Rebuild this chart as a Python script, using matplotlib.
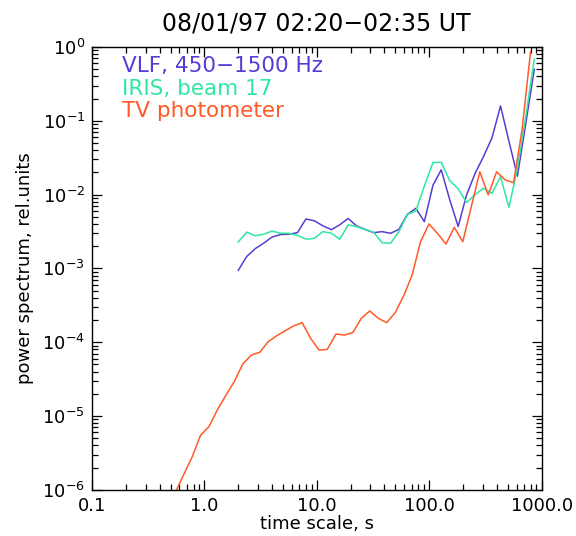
import matplotlib
matplotlib.use("Agg")
import matplotlib.pyplot as plt
from matplotlib.ticker import LogLocator, FixedLocator, FixedFormatter, NullFormatter

# time scales (s) of the VLF / IRIS spectra
vlf_t = [2.00, 2.38, 2.83, 3.36, 4.00, 4.76, 5.66, 6.73, 8.00, 9.51,
         11.3, 13.5, 16.0, 19.0, 22.6, 26.9, 32.0, 38.1, 45.3, 53.8,
         64.0, 76.1, 90.5, 108., 128., 152., 181., 215., 256., 304.,
         362., 431., 512., 609., 724., 861.]

vlf_p = [9.4e-4, 1.45e-3, 1.85e-3, 2.19e-3, 2.66e-3, 2.88e-3, 2.91e-3, 3.05e-3, 4.67e-3, 4.42e-3,
         3.78e-3, 3.35e-3, 3.9e-3, 4.75e-3, 3.76e-3, 3.38e-3, 3.05e-3, 3.15e-3, 2.99e-3, 3.38e-3,
         5.4e-3, 6.52e-3, 4.3e-3, 1.34e-2, 2.17e-2, 8.6e-3, 3.7e-3, 9.9e-3, 1.94e-2, 3.27e-2,
         5.9e-2, 0.159, 5.3e-2, 1.78e-2, 9.3e-2, 0.50]

iris_p = [2.28e-3, 3.1e-3, 2.77e-3, 2.9e-3, 3.21e-3, 2.99e-3, 2.99e-3, 2.8e-3, 2.49e-3, 2.55e-3,
          3.15e-3, 3.0e-3, 2.48e-3, 3.9e-3, 3.68e-3, 3.38e-3, 3.08e-3, 2.23e-3, 2.19e-3, 3.15e-3,
          5.4e-3, 6.0e-3, 1.3e-2, 2.72e-2, 2.74e-2, 1.55e-2, 1.2e-2, 7.8e-3, 1.0e-2, 1.22e-2,
          1.04e-2, 1.75e-2, 6.7e-3, 2.27e-2, 0.117, 0.687]

# TV photometer sampled on its own set of scales
tv_t = [0.55, 0.654, 0.778, 0.925, 1.10, 1.31, 1.56, 1.85, 2.20, 2.62,
        3.11, 3.70, 4.40, 5.23, 6.22, 7.40, 8.80, 10.5, 12.4, 14.8,
        17.6, 20.9, 24.9, 29.6, 35.2, 41.9, 49.8, 59.2, 70.4, 83.7,
        99.6, 118., 141., 167., 199., 237., 282., 335., 398., 474.,
        563., 670., 797.]

tv_p = [9.2e-7, 1.6e-6, 2.78e-6, 5.5e-6, 7.2e-6, 1.23e-5, 1.93e-5, 2.95e-5, 5.1e-5, 6.7e-5,
        7.3e-5, 1.02e-4, 1.22e-4, 1.43e-4, 1.66e-4, 1.84e-4, 1.13e-4, 7.8e-5, 8.0e-5, 1.29e-4,
        1.25e-4, 1.35e-4, 2.11e-4, 2.65e-4, 2.11e-4, 1.84e-4, 2.51e-4, 4.23e-4, 8.1e-4, 2.3e-3,
        4.0e-3, 3.0e-3, 2.14e-3, 3.6e-3, 2.3e-3, 6.9e-3, 2.04e-2, 9.9e-3, 2.04e-2, 1.58e-2,
        1.45e-2, 7.6e-2, 0.86]

x_ticks = [0.1, 1.0, 10.0, 100.0, 1000.0]
x_labels = ['0.1', '1.0', '10.0', '100.0', '1000.0']
y_ticks = [1e-6, 1e-5, 1e-4, 1e-3, 1e-2, 1e-1, 1.0]

series_lab = ['VLF, 450\u22121500 Hz', 'IRIS, beam 17', 'TV photometer']
series_col = ['#5a3cd2', '#2ee8a2', '#ff5a28']

fig = plt.figure(figsize=(5.76, 5.36), dpi=100)
ax = fig.add_axes([0.1597, 0.0862, 0.7806, 0.8261])

ax.plot(vlf_t, vlf_p, color=series_col[0], lw=1.1)
ax.plot(vlf_t, iris_p, color=series_col[1], lw=1.1)
ax.plot(tv_t, tv_p, color=series_col[2], lw=1.1)

ax.set_xscale('log')
ax.set_yscale('log')
ax.set_xlim(0.1, 1000.)
ax.set_ylim(1e-6, 1.)

ax.xaxis.set_major_locator(FixedLocator(x_ticks))
ax.xaxis.set_major_formatter(FixedFormatter(x_labels))
ax.xaxis.set_minor_locator(LogLocator(base=10, subs=range(2, 10), numticks=20))
ax.xaxis.set_minor_formatter(NullFormatter())
ax.yaxis.set_major_locator(FixedLocator(y_ticks))
ax.yaxis.set_minor_locator(LogLocator(base=10, subs=range(2, 10), numticks=20))
ax.yaxis.set_minor_formatter(NullFormatter())

ax.tick_params(which='both', direction='in', top=True, right=True, width=0.9, colors='black')
ax.tick_params(which='major', length=7, labelsize=13)
ax.tick_params(which='minor', length=4)
ax.tick_params(axis='x', which='major', pad=5)
ax.tick_params(axis='y', which='major', pad=5)
for sp in ax.spines.values():
    sp.set_linewidth(1.0)

ax.set_xlabel('time scale, s', fontsize=13, labelpad=0)
ax.set_ylabel('power spectrum, rel.units', fontsize=13, labelpad=6)
ax.set_title('08/01/97 02:20\u221202:35 UT', fontsize=17, pad=12)

# legend as coloured text lines
for i in range(3):
    ax.text(0.066, 0.943 - i * 0.051, series_lab[i], color=series_col[i], fontsize=15.5,
            transform=ax.transAxes, ha='left', va='baseline')

plt.savefig('out.png', dpi=100)
